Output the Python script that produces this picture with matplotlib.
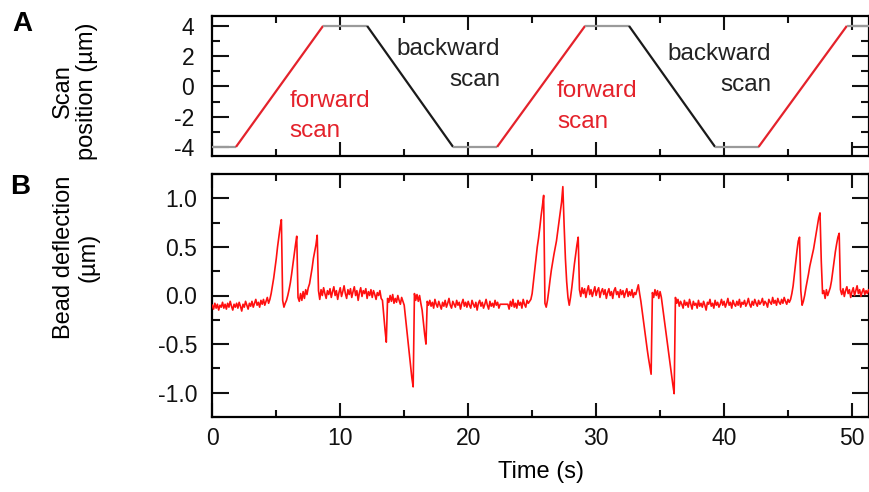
import numpy as np
import matplotlib
matplotlib.use("Agg")
import matplotlib.pyplot as plt
from matplotlib.ticker import MultipleLocator

plt.rcParams['font.family'] = ['Liberation Sans', 'DejaVu Sans']
plt.rcParams['axes.unicode_minus'] = False

# ---------------- data ----------------
# Panel A: scan position breakpoints (s, um) and colour of each segment
scan_times = [0.0, 1.85, 8.66, 12.1, 18.82, 22.26, 29.14, 32.57, 39.3, 42.7, 49.6, 51.33]
scan_pos = [-4, -4, 4, 4, -4, -4, 4, 4, -4, -4, 4, 4]
scan_kind = ['dwell', 'fwd', 'dwell', 'bwd', 'dwell', 'fwd', 'dwell', 'bwd', 'dwell', 'fwd', 'dwell']

# annotation texts (label, t, baseline y, alignment)
ann_lines = ['forward', 'scan', 'backward', 'scan', 'forward', 'scan', 'backward', 'scan']
ann_t = [6.02, 6.02, 22.5, 22.5, 26.95, 26.95, 43.67, 43.67]
ann_y = [-1.36, -3.34, 2.09, 0.03, -0.70, -2.75, 1.75, -0.30]
ann_kind = ['fwd', 'fwd', 'bwd', 'bwd', 'fwd', 'fwd', 'bwd', 'bwd']

# Panel B: bead deflection (um), sampled every 0.1 s from t = 0
dt = 0.1
deflection = [
    -0.10, -0.14, -0.08, -0.13, -0.09, -0.15, -0.10, -0.12, -0.07, -0.13,  # 0
    -0.09, -0.14, -0.08, -0.12, -0.06, -0.11, -0.15, -0.09, -0.12, -0.08,  # 1
    -0.13, -0.07, -0.11, -0.16, -0.09, -0.12, -0.06, -0.10, -0.14, -0.08,  # 2
    -0.11, -0.06, -0.12, -0.08, -0.04, -0.10, -0.07, -0.12, -0.05, -0.09,  # 3
    -0.04, -0.10, -0.06, -0.02, -0.08, -0.04, 0.02, 0.10, 0.18, 0.28,  # 4
    0.38, 0.50, 0.60, 0.70, 0.78, -0.05, -0.12, -0.08, -0.05, 0.00,  # 5
    0.06, 0.13, 0.22, 0.32, 0.42, 0.52, 0.61, -0.02, -0.06, 0.02,  # 6
    -0.05, 0.04, -0.03, 0.06, 0.01, 0.08, 0.12, 0.20, 0.28, 0.38,  # 7
    0.45, 0.52, 0.62, 0.05, -0.04, 0.06, 0.00, 0.08, 0.02, -0.03,  # 8
    0.05, 0.01, 0.07, -0.02, 0.04, 0.09, 0.00, 0.05, -0.04, 0.03,  # 9
    0.08, -0.01, 0.04, 0.10, 0.02, -0.03, 0.06, 0.01, 0.07, -0.02,  # 10
    0.04, 0.09, 0.00, 0.05, -0.05, 0.03, 0.08, -0.01, 0.05, 0.02,  # 11
    0.07, -0.03, 0.04, 0.00, 0.06, -0.02, 0.05, 0.01, -0.04, 0.03,  # 12
    0.00, 0.05, -0.03, -0.05, -0.20, -0.35, -0.48, -0.03, -0.07, 0.00,  # 13
    -0.06, 0.01, -0.08, -0.03, -0.07, 0.00, -0.05, -0.09, -0.02, -0.06,  # 14
    -0.10, -0.22, -0.35, -0.48, -0.60, -0.72, -0.85, -0.94, 0.02, -0.05,  # 15
    0.01, -0.06, 0.00, -0.08, -0.15, -0.28, -0.40, -0.50, -0.06, -0.10,  # 16
    -0.05, -0.11, -0.07, -0.13, -0.04, -0.09, -0.12, -0.06, -0.10, -0.14,  # 17
    -0.07, -0.11, -0.05, -0.12, -0.08, -0.03, -0.10, -0.13, -0.06, -0.09,  # 18
    -0.12, -0.05, -0.10, -0.07, -0.14, -0.08, -0.04, -0.11, -0.07, -0.12,  # 19
    -0.06, -0.10, -0.13, -0.05, -0.09, -0.12, -0.07, -0.15, -0.08, -0.05,  # 20
    -0.11, -0.07, -0.13, -0.09, -0.04, -0.10, -0.14, -0.06, -0.11, -0.08,  # 21
    -0.12, -0.05, -0.10, -0.07, -0.13, -0.09, -0.09, -0.09, -0.09, -0.09,  # 22
    -0.09, -0.09, -0.14, -0.06, -0.11, -0.04, -0.12, -0.08, -0.13, -0.05,  # 23
    -0.10, -0.07, -0.13, -0.04, -0.09, -0.12, -0.05, -0.08, -0.06, -0.04,  # 24
    0.02, 0.14, 0.27, 0.39, 0.50, 0.59, 0.70, 0.82, 0.92, 1.03,  # 25
    -0.08, -0.12, -0.05, 0.05, 0.16, 0.26, 0.34, 0.42, 0.49, 0.56,  # 26
    0.66, 0.76, 0.86, 0.96, 1.12, 0.72, 0.38, 0.14, -0.02, -0.10,  # 27
    -0.02, 0.08, 0.20, 0.32, 0.42, 0.52, 0.60, 0.06, -0.01, 0.08,  # 28
    0.02, 0.07, -0.02, 0.05, 0.10, 0.01, 0.06, -0.01, 0.04, 0.09,  # 29
    0.00, 0.05, 0.08, -0.02, 0.04, 0.07, 0.01, 0.06, -0.03, 0.03,  # 30
    0.07, 0.00, 0.04, -0.03, 0.05, 0.08, 0.01, 0.04, -0.02, 0.06,  # 31
    0.01, 0.05, -0.02, 0.03, 0.07, -0.01, 0.04, 0.00, 0.06, -0.02,  # 32
    0.03, 0.01, 0.06, 0.11, 0.02, -0.06, -0.16, -0.26, -0.36, -0.46,  # 33
    -0.56, -0.65, -0.73, -0.81, 0.03, -0.02, 0.06, 0.00, 0.05, -0.03,  # 34
    0.04, -0.02, -0.12, -0.22, -0.32, -0.42, -0.52, -0.62, -0.72, -0.82,  # 35
    -0.92, -1.01, -0.02, -0.08, -0.04, -0.11, -0.06, -0.09, -0.13, -0.05,  # 36
    -0.10, -0.07, -0.12, -0.04, -0.09, -0.14, -0.06, -0.10, -0.08, -0.13,  # 37
    -0.05, -0.11, -0.08, -0.12, -0.06, -0.10, -0.15, -0.07, -0.09, -0.04,  # 38
    -0.11, -0.08, -0.13, -0.05, -0.10, -0.07, -0.12, -0.09, -0.04, -0.10,  # 39
    -0.06, -0.12, -0.08, -0.03, -0.10, -0.07, -0.13, -0.05, -0.09, -0.11,  # 40
    -0.06, -0.10, -0.04, -0.12, -0.07, -0.09, -0.05, -0.11, -0.08, -0.03,  # 41
    -0.09, -0.12, -0.06, -0.10, -0.04, -0.08, -0.11, -0.05, -0.09, -0.07,  # 42
    -0.03, -0.10, -0.06, -0.08, -0.12, -0.04, -0.07, -0.09, -0.02, -0.08,  # 43
    -0.05, -0.10, -0.03, -0.07, -0.09, -0.04, -0.08, -0.02, -0.06, -0.09,  # 44
    -0.04, -0.07, -0.04, 0.02, 0.10, 0.22, 0.34, 0.46, 0.56, 0.60,  # 45
    0.05, -0.10, -0.06, 0.00, 0.08, 0.15, 0.22, 0.30, 0.36, 0.42,  # 46
    0.48, 0.56, 0.64, 0.72, 0.80, 0.85, 0.35, 0.02, 0.05, -0.03,  # 47
    0.06, 0.00, 0.04, 0.08, 0.15, 0.25, 0.35, 0.45, 0.53, 0.60,  # 48
    0.64, 0.06, 0.01, 0.07, -0.01, 0.05, 0.09, 0.02, 0.06, -0.02,  # 49
    0.04, 0.08, 0.00, 0.05, 0.10, 0.02, 0.06, -0.01, 0.04, 0.07,  # 50
    0.01, 0.05, 0.02, 0.06, 0.03,  # 51
]

x_ticks = [0, 10, 20, 30, 40, 50]
a_yticks = [-4, -2, 0, 2, 4]
b_yticks = [-1.0, -0.5, 0.0, 0.5, 1.0]

# ---------------- styling ----------------
seg_colors = {'dwell': '#9a9a9a', 'fwd': '#e4222b', 'bwd': '#1a1a1a'}
text_colors = {'fwd': '#e4222b', 'bwd': '#222222'}
trace_color = '#ff1010'

fig = plt.figure(figsize=(8.7, 4.92), dpi=100)
W, H = 870.0, 492.0
left = 212.3 / W
width = (869.0 - 212.3) / W
axA = fig.add_axes([left, 1 - 156.3 / H, width, (156.3 - 16.5) / H])
axB = fig.add_axes([left, 1 - 417.0 / H, width, (417.0 - 174.0) / H])

# Panel A
for i, kind in enumerate(scan_kind):
    axA.plot(scan_times[i:i + 2], scan_pos[i:i + 2], color=seg_colors[kind],
             lw=1.6, solid_capstyle='butt', zorder=3)
for txt, t, y, kind in zip(ann_lines, ann_t, ann_y, ann_kind):
    ha = 'left' if kind == 'fwd' else 'right'
    axA.text(t, y, txt, color=text_colors[kind], fontsize=17.5, ha=ha,
             va='baseline')

# Panel B
t_b = np.arange(len(deflection)) * dt
axB.plot(t_b, deflection, color=trace_color, lw=1.2, zorder=3)

xmax = 51.33
for ax in (axA, axB):
    ax.set_xlim(0, xmax)
    ax.set_xticks(x_ticks)
    ax.xaxis.set_minor_locator(MultipleLocator(5))
    for s in ax.spines.values():
        s.set_linewidth(1.6)
    ax.tick_params(which='both', direction='in', top=True, right=True,
                   width=1.5, colors='#111111')
    ax.tick_params(axis='x', which='major', length=10, pad=7, labelsize=16.5)
    ax.tick_params(axis='x', which='minor', length=5)
    ax.tick_params(axis='y', which='major', length=12, labelsize=16.5)
    ax.tick_params(axis='y', which='minor', length=6)

axA.set_ylim(-4.62, 4.62)
axA.set_yticks(a_yticks)
axA.set_yticklabels([str(v) for v in a_yticks])
axA.yaxis.set_minor_locator(MultipleLocator(1))
axA.tick_params(axis='x', labelbottom=False)
axA.tick_params(axis='y', pad=13)

axB.set_ylim(-1.25, 1.25)
axB.set_yticks(b_yticks)
axB.set_yticklabels(['%.1f' % v for v in b_yticks])
axB.yaxis.set_minor_locator(MultipleLocator(0.25))
axB.tick_params(axis='y', pad=11)
axB.set_xlabel('Time (s)', fontsize=17, labelpad=8)

fig.text(75 / W, 1 - 91 / H, 'Scan\nposition (µm)', rotation=90, ha='center',
         va='center', multialignment='center', fontsize=17, linespacing=1.15)
fig.text(76 / W, 1 - 257 / H, 'Bead deflection\n(µm)', rotation=90, ha='center',
         va='center', multialignment='center', fontsize=17, linespacing=1.15)
fig.text(22 / W, 1 - 24 / H, 'A', fontsize=20, fontweight='bold', ha='center', va='center')
fig.text(20 / W, 1 - 187 / H, 'B', fontsize=20, fontweight='bold', ha='center', va='center')

fig.savefig('out.png', dpi=100)
